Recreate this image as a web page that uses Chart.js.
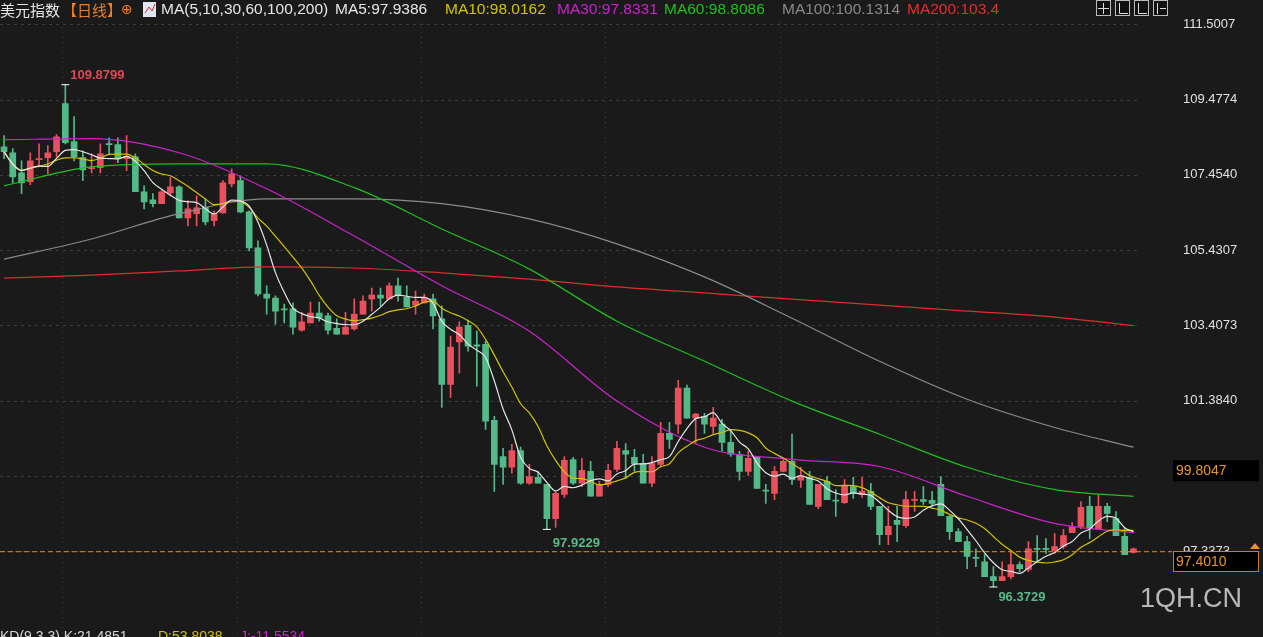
<!DOCTYPE html>
<html>
<head>
<meta charset="utf-8">
<script src="https://cdn.jsdelivr.net/npm/chart.js@4"></script>
<style>
  html, body { margin: 0; padding: 0; background: #1a1a1a; overflow: hidden; }
  #wrap { width: 1263px; height: 637px; }
</style>
</head>
<body>
<div id="wrap"><canvas id="kline" width="1263" height="637"></canvas></div>
<script>
// daily candles, oldest first
const opens = [108.21,108.05,107.51,107.27,107.86,107.92,108.08,109.37,108.35,107.92,
  107.62,107.65,108.29,108.27,107.89,107.94,107.00,106.78,106.68,106.97,
  107.13,106.30,106.41,106.59,106.22,106.43,107.21,107.30,106.46,105.49,
  104.25,104.14,103.85,103.85,103.28,103.47,103.74,103.66,103.33,103.17,
  103.31,103.71,104.12,104.22,104.12,104.47,104.17,103.95,104.01,104.12,
  103.58,101.82,102.96,103.41,102.88,102.90,100.85,99.88,99.59,100.04,
  99.16,99.32,99.13,98.21,98.86,99.80,99.16,99.48,98.81,99.13,
  99.53,100.04,99.86,99.69,99.16,99.67,100.50,100.75,101.72,100.91,
  100.96,100.69,100.75,100.26,99.94,99.48,99.86,98.97,98.89,99.48,
  99.75,99.24,99.32,98.54,99.21,98.70,98.64,99.07,98.86,98.94,
  98.54,97.78,98.16,98.02,98.70,98.72,98.70,99.13,98.27,97.86,
  97.59,97.16,97.05,96.65,96.54,96.65,96.97,96.84,97.40,97.40,
  97.35,97.46,97.83,98.00,98.54,97.94,98.54,98.21,97.73,97.30];
const highs = [108.51,108.16,107.83,108.05,108.29,108.24,108.54,109.88,109.02,108.10,
  108.02,108.29,108.45,108.45,108.51,108.02,107.16,106.95,107.03,107.38,
  107.16,106.76,106.89,106.81,106.49,107.30,107.62,107.43,106.49,105.68,
  104.47,104.20,103.98,104.01,103.76,104.03,104.03,103.74,103.58,103.76,
  104.12,104.20,104.41,104.41,104.55,104.68,104.47,104.33,104.25,104.25,
  103.93,103.12,103.50,103.55,103.25,102.98,100.96,100.10,100.21,100.13,
  99.67,99.48,99.13,98.94,99.88,99.86,99.83,99.75,99.21,99.67,
  100.29,100.23,100.07,99.94,99.88,100.80,100.80,101.93,101.80,101.04,
  101.04,101.20,100.88,100.56,100.02,100.02,99.88,99.13,99.61,99.80,
  100.48,99.59,99.48,99.13,99.34,98.99,99.26,99.32,99.32,99.16,
  98.54,98.54,98.54,98.94,98.94,99.07,98.94,99.34,98.29,97.94,
  97.73,97.40,97.24,96.92,97.05,97.35,97.05,97.59,97.75,97.67,
  97.81,97.92,98.10,98.67,98.81,98.86,98.62,98.40,97.94,97.42];
const lows = [107.89,107.24,106.95,107.19,107.67,107.48,107.94,108.29,107.83,107.30,
  107.51,107.51,108.02,107.78,107.57,107.00,106.54,106.59,106.68,106.89,
  106.30,106.08,106.08,106.11,106.08,106.43,107.13,106.43,105.41,104.20,
  103.71,103.44,103.47,103.17,103.25,103.47,103.52,103.17,103.17,103.17,
  103.28,103.71,103.79,103.93,104.12,104.06,103.90,103.71,104.01,103.31,
  101.20,101.47,102.12,102.71,101.77,100.61,98.94,99.13,99.43,99.13,
  99.13,99.16,97.92,97.97,98.78,99.13,99.07,98.81,98.81,99.07,
  99.48,99.29,99.48,99.16,99.07,99.61,100.10,100.50,100.91,100.23,
  100.50,100.50,100.02,99.88,99.24,99.37,99.02,98.62,98.72,99.48,
  99.13,99.05,98.59,98.48,98.72,98.27,98.62,98.75,98.78,98.45,
  97.51,97.51,97.59,97.97,98.40,98.59,98.54,98.29,97.65,97.59,
  96.86,96.92,96.65,96.37,96.54,96.59,96.78,96.78,97.05,97.27,
  97.27,97.40,97.83,97.94,97.67,97.94,98.13,97.75,97.24,97.28];
const closes = [108.08,107.40,107.24,107.83,107.89,108.05,108.48,108.32,107.94,107.59,
  107.65,108.02,108.27,107.89,107.94,107.00,106.73,106.68,107.00,107.13,
  106.30,106.54,106.57,106.19,106.41,107.24,107.48,106.46,105.49,104.25,
  104.14,103.79,103.82,103.36,103.50,103.74,103.60,103.28,103.17,103.36,
  103.71,104.06,104.22,104.14,104.47,104.22,103.90,104.06,104.14,103.66,
  101.82,102.82,103.36,102.85,102.85,100.83,99.67,99.59,100.04,99.16,
  99.34,99.16,98.21,98.89,99.78,99.16,99.51,98.81,99.13,99.51,
  100.10,99.94,99.69,99.16,99.69,100.50,100.34,101.72,100.91,101.02,
  100.75,100.91,100.26,99.94,99.48,99.83,99.02,98.95,99.48,99.75,
  99.26,99.37,98.59,99.13,98.72,98.68,99.10,98.89,98.94,98.54,
  97.78,98.00,98.05,98.72,98.72,98.67,98.62,98.29,97.86,97.59,
  97.19,97.14,96.65,96.54,96.65,96.97,96.86,97.40,97.38,97.38,
  97.46,97.75,98.00,98.51,97.94,98.54,98.35,97.75,97.24,97.40];

// long moving averages every 10 sessions
const maIndex = [0,10,20,30,40,50,60,70,80,90,100,110,120,129];
const ma30 = [108.40,108.43,108.05,107.08,105.81,104.47,103.25,101.37,100.13,99.80,99.61,98.81,98.08,97.83];
const ma60 = [107.16,107.67,107.75,107.75,107.11,106.00,104.92,103.52,102.44,101.37,100.48,99.59,98.99,98.81];
const ma100 = [105.19,105.73,106.41,106.81,106.81,106.68,106.27,105.60,104.71,103.60,102.44,101.42,100.66,100.13];
const ma200 = [104.68,104.76,104.87,104.98,104.95,104.82,104.65,104.44,104.28,104.11,103.95,103.79,103.63,103.40];

const tickValues = [111.5007,109.4774,107.4540,105.4307,103.4073,101.3840,99.3607,97.3373];
const gridSessions = [7,27,48,69,89,107];

const UP = '#e9505c', DOWN = '#52ba88';

function rolling(n) {
  return closes.map((c, i) => {
    const s = closes.slice(Math.max(0, i - n + 1), i + 1);
    return { x: i, y: s.reduce((a, b) => a + b, 0) / s.length };
  });
}
const sparse = arr => arr.map((v, k) => ({ x: maIndex[k], y: v }));

const colors = closes.map((c, i) => c >= opens[i] ? UP : DOWN);
const bodies = closes.map((c, i) => ({ x: i, y: [opens[i], c] }));
const wicks = closes.map((c, i) => ({ x: i, y: [lows[i], highs[i]] }));

function maLine(label, data, color, tension) {
  return { type: 'line', label, data, borderColor: color, borderWidth: 1.2,
    pointRadius: 0, tension: tension, cubicInterpolationMode: 'monotone', order: 1 };
}

const NUM = '"Liberation Sans", Arial';

const overlay = {
  id: 'overlay',
  beforeDatasetsDraw(chart) {
    const { ctx, scales: { x, y } } = chart;
    ctx.save();
    ctx.strokeStyle = '#3c3c3c';
    ctx.lineWidth = 1;
    ctx.setLineDash([3, 4]);
    tickValues.forEach(v => {
      const py = Math.round(y.getPixelForValue(v)) + 0.5;
      ctx.beginPath(); ctx.moveTo(0, py); ctx.lineTo(1140, py); ctx.stroke();
    });
    ctx.setLineDash([1, 4]);
    gridSessions.forEach(s => {
      const px = Math.round(x.getPixelForValue(s - 0.4)) + 0.5;
      ctx.beginPath(); ctx.moveTo(px, 22); ctx.lineTo(px, 637); ctx.stroke();
    });
    ctx.restore();
  },
  afterDraw(chart) {
    const { ctx, scales: { x, y } } = chart;
    ctx.save();
    const last = closes[closes.length - 1];
    const py = y.getPixelForValue(last);
    // last price line
    ctx.strokeStyle = '#e08a1e';
    ctx.setLineDash([5, 3]);
    ctx.beginPath(); ctx.moveTo(0, py + 3); ctx.lineTo(1172, py + 3); ctx.stroke();
    ctx.setLineDash([]);
    // boxes on the axis
    ctx.font = '14px ' + NUM;
    ctx.textBaseline = 'middle';
    const by = y.getPixelForValue(99.51);
    ctx.fillStyle = '#000';
    ctx.fillRect(1173, by - 10, 86, 21);
    ctx.fillStyle = '#e8932a';
    ctx.fillText('99.8047', 1176, by + 1);
    ctx.fillStyle = '#000';
    ctx.fillRect(1173, 551, 86, 21);
    ctx.strokeStyle = '#c8801a';
    ctx.strokeRect(1173.5, 551.5, 85, 20);
    ctx.fillStyle = '#e8932a';
    ctx.fillText('97.4010', 1176, 562);
    ctx.beginPath(); ctx.moveTo(1250, 549); ctx.lineTo(1255, 543); ctx.lineTo(1260, 549); ctx.fill();

    // extremes
    const mark = (i, v, text, color, dx, dy) => {
      const mx = x.getPixelForValue(i), my = y.getPixelForValue(v);
      ctx.strokeStyle = '#fff'; ctx.lineWidth = 1;
      ctx.beginPath(); ctx.moveTo(mx - 4, my); ctx.lineTo(mx + 4, my); ctx.stroke();
      ctx.font = 'bold 13px ' + NUM;
      ctx.fillStyle = color;
      ctx.fillText(text, mx + dx, my + dy);
    };
    mark(7, highs[7], '109.8799', '#e04855', 5, -9);
    mark(62, lows[62], '97.9229', '#58b98a', 6, 14);
    mark(113, lows[113], '96.3729', '#58b98a', 5, 10);

    // header legend
    const head = [
      ['美元指数', 0, '#e6e6e6', '15px "Noto Sans CJK SC"'],
      ['【日线】', 62, '#ef7d22', '15px "Noto Sans CJK SC"'],
      ['⊕', 121, '#ef7d22', '14px "DejaVu Sans"'],
      ['MA(5,10,30,60,100,200)', 161, '#e6e6e6', '15.5px ' + NUM],
      ['MA5:97.9386', 335, '#e6e6e6', '15.5px ' + NUM],
      ['MA10:98.0162', 445, '#d2c400', '15.5px ' + NUM],
      ['MA30:97.8331', 557, '#cc22cc', '15.5px ' + NUM],
      ['MA60:98.8086', 664, '#1ec01e', '15.5px ' + NUM],
      ['MA100:100.1314', 782, '#8a8a8a', '15.5px ' + NUM],
      ['MA200:103.4', 907, '#e03030', '15.5px ' + NUM]
    ];
    head.forEach(([t, hx, c, f]) => { ctx.font = f; ctx.fillStyle = c; ctx.fillText(t, hx, 10); });
    ctx.fillStyle = '#dfe6f5'; ctx.fillRect(143, 2, 13, 15);
    ctx.strokeStyle = '#d03030'; ctx.beginPath(); ctx.moveTo(145, 13); ctx.lineTo(149, 7); ctx.lineTo(152, 11); ctx.lineTo(155, 4); ctx.stroke();
    // toolbar
    ctx.strokeStyle = '#bbb';
    ctx.fillStyle = '#111';
    [1096, 1115, 1134, 1153].forEach(tx => { ctx.fillRect(tx, 0, 15, 16); ctx.strokeRect(tx + 0.5, 0.5, 14, 15); });
    ctx.strokeStyle = '#ddd';
    ctx.beginPath();
    ctx.moveTo(1103.5, 3); ctx.lineTo(1103.5, 14); ctx.moveTo(1098, 8.5); ctx.lineTo(1109, 8.5);
    ctx.moveTo(1119.5, 3); ctx.lineTo(1119.5, 13.5); ctx.lineTo(1128, 13.5);
    ctx.moveTo(1138.5, 3); ctx.lineTo(1138.5, 13.5); ctx.lineTo(1147, 13.5);
    ctx.moveTo(1157.5, 3); ctx.lineTo(1157.5, 14); ctx.moveTo(1160, 8.5); ctx.lineTo(1166, 8.5);
    ctx.stroke();
    // bottom indicator line and watermark
    ctx.font = '14px ' + NUM;
    ctx.fillStyle = '#d8d8d8'; ctx.fillText('KD(9,3,3) K:21.4851', 0, 637);
    ctx.fillStyle = '#d2c400'; ctx.fillText('D:53.8038', 158, 637);
    ctx.fillStyle = '#cc22cc'; ctx.fillText('J:-11.5534', 240, 637);
    ctx.font = '27px ' + NUM;
    ctx.fillStyle = '#b8b8b8';
    ctx.fillText('1QH.CN', 1140, 600);
    ctx.restore();
  }
};

new Chart(document.getElementById('kline'), {
  data: {
    datasets: [
      maLine('MA5', rolling(5), '#e6e6e6', 0.3),
      maLine('MA10', rolling(10), '#d2c400', 0.3),
      maLine('MA30', sparse(ma30), '#cc22cc', 0.4),
      maLine('MA60', sparse(ma60), '#1ec01e', 0.4),
      maLine('MA100', sparse(ma100), '#8a8a8a', 0.4),
      maLine('MA200', sparse(ma200), '#d83030', 0.4),
      { type: 'bar', label: 'body', data: bodies, backgroundColor: colors, borderWidth: 0,
        barThickness: 6, minBarLength: 1, grouped: false, order: 2 },
      { type: 'bar', label: 'wick', data: wicks, backgroundColor: colors, borderWidth: 0,
        barThickness: 1, grouped: false, order: 3 }
    ]
  },
  options: {
    responsive: false,
    animation: false,
    layout: { padding: 0 },
    plugins: { legend: { display: false }, tooltip: { enabled: false } },
    scales: {
      x: { type: 'linear', display: false, min: -0.46, max: 132.6, offset: false },
      y: {
        position: 'right', min: 95.504, max: 111.679,
        grid: { display: false }, border: { display: false },
        afterBuildTicks: s => { s.ticks = tickValues.map(v => ({ value: v })); },
        afterFit: s => { s.width = 98; },
        ticks: { color: '#e0e0e0', padding: 10, font: { size: 13, family: 'Liberation Sans' },
          callback: v => v.toFixed(4) }
      }
    }
  },
  plugins: [overlay]
});
</script>
</body>
</html>
